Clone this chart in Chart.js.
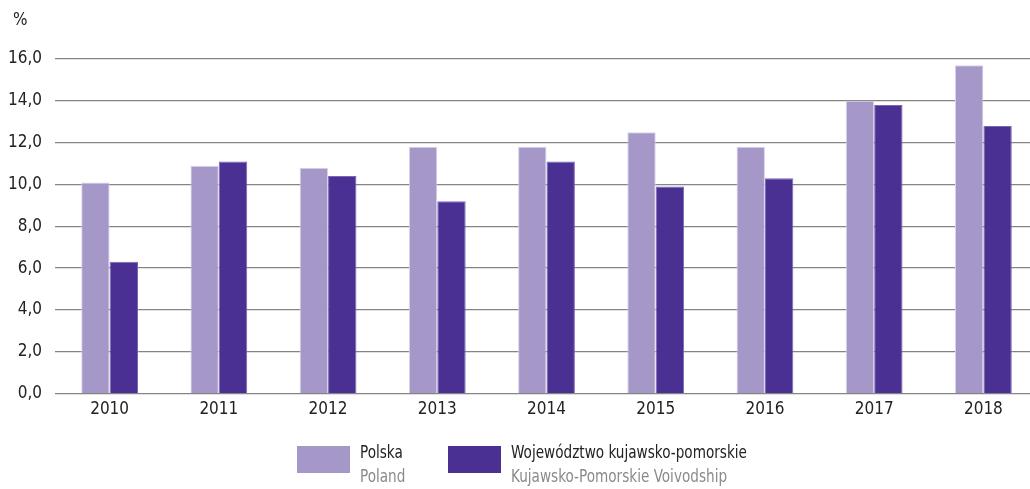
<!DOCTYPE html>
<html>
<head>
<meta charset="utf-8"/>
<style type="text/css">
  body {
    margin: 0px;
    padding: 0px;
    overflow: hidden;
    background: #ffffff;
  }
  #wrap {
    position: relative;
    width: 1040px;
    height: 489px;
  }
</style>
<script src="https://cdn.jsdelivr.net/npm/chart.js@4/dist/chart.umd.min.js"></script>
</head>
<body>
<div id="wrap"><canvas id="chart" width="1040" height="489"></canvas></div>
<script>
  var years = ['2010', '2011', '2012', '2013', '2014', '2015', '2016', '2017', '2018'];
  var polska = [10.1, 10.9, 10.8, 11.8, 11.8, 12.5, 11.8, 14.0, 15.7];
  var kujawsko = [6.3, 11.1, 10.4, 9.2, 11.1, 9.9, 10.3, 13.8, 12.8];
  var seriesNames = [['Polska', 'Poland'], ['Województwo kujawsko-pomorskie', 'Kujawsko-Pomorskie Voivodship']];
  var seriesColors = ['#a598c9', '#4a3092'];

  var FONT = '"Liberation Sans Narrow", "DejaVu Sans Condensed", sans-serif';

  // draws condensed text a little narrower than the font gives
  function narrowText(ctx, text, x, y) {
    ctx.save();
    ctx.translate(x, y);
    ctx.scale(0.89, 1);
    ctx.fillText(text, 0, 0);
    ctx.restore();
  }

  // two-line legend (Polish name + English name in grey) under the axis
  var legendBoxes = [{x: 297, y: 446}, {x: 448, y: 446}];
  var twoLineLegend = {
    id: 'twoLineLegend',
    afterDraw: function(chart) {
      var ctx = chart.ctx;
      ctx.save();
      chart.data.datasets.forEach(function(ds, i) {
        var b = legendBoxes[i];
        ctx.fillStyle = ds.backgroundColor;
        ctx.fillRect(b.x, b.y, 53, 27);
        ctx.font = '17px ' + FONT;
        ctx.textBaseline = 'middle';
        ctx.textAlign = 'left';
        ctx.fillStyle = '#222222';
        narrowText(ctx, ds.names[0], b.x + 63, b.y + 8);
        ctx.fillStyle = '#8a8a8a';
        narrowText(ctx, ds.names[1], b.x + 63, b.y + 32);
      });
      // unit label
      ctx.font = '17px ' + FONT;
      ctx.fillStyle = '#222222';
      ctx.textBaseline = 'middle';
      ctx.fillText('%', 13, 21);
      ctx.restore();
    }
  };

  new Chart(document.getElementById('chart'), {
    type: 'bar',
    data: {
      labels: years,
      datasets: [{
        label: seriesNames[0][0],
        names: seriesNames[0],
        data: polska,
        backgroundColor: seriesColors[0],
        borderColor: '#d8d2ea',
        borderWidth: 1
      }, {
        label: seriesNames[1][0],
        names: seriesNames[1],
        data: kujawsko,
        backgroundColor: seriesColors[1],
        borderColor: '#7a66b6',
        borderWidth: 1
      }]
    },
    options: {
      responsive: false,
      animation: false,
      events: [],
      layout: {padding: {left: 0, right: 2, top: 59, bottom: 63}},
      datasets: {
        bar: {categoryPercentage: 0.52, barPercentage: 1.0}
      },
      plugins: {
        legend: {display: false},
        tooltip: {enabled: false}
      },
      scales: {
        x: {
          grid: {display: false, drawTicks: false},
          border: {display: false},
          ticks: {color: '#222222', font: {family: FONT, size: 17}, padding: 6}
        },
        y: {
          min: 0,
          max: 16,
          afterFit: function(scale) { scale.width = 55; },
          grid: {color: '#858585', lineWidth: 1.3, drawTicks: false},
          border: {display: false},
          ticks: {
            stepSize: 2,
            color: '#222222',
            font: {family: FONT, size: 17},
            padding: 13,
            callback: function(v) { return v.toFixed(1).replace('.', ','); }
          }
        }
      }
    },
    plugins: [twoLineLegend]
  });
</script>
</body>
</html>
